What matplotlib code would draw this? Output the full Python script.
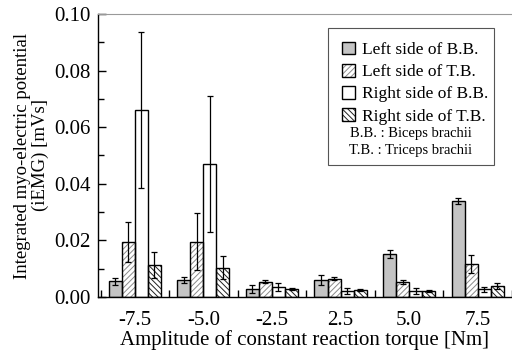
import matplotlib.pyplot as plt
import numpy as np
from matplotlib.patches import Rectangle
from matplotlib.ticker import MultipleLocator

plt.rcParams['font.family'] = ['Liberation Serif', 'DejaVu Serif']
plt.rcParams['hatch.linewidth'] = 0.7

torques = ['-7.5', '-5.0', '-2.5', '2.5', '5.0', '7.5']
labels = ['Left side of B.B.', 'Left side of T.B.', 'Right side of B.B.', 'Right side of T.B.']

left_bb = [0.0055, 0.0060, 0.0027, 0.0060, 0.0152, 0.0339]
left_bb_err = [0.0013, 0.0011, 0.0014, 0.0017, 0.0014, 0.0011]
left_tb = [0.0195, 0.0195, 0.0054, 0.0065, 0.0054, 0.0116]
left_tb_err = [0.0070, 0.0100, 0.0005, 0.0004, 0.0007, 0.0033]
right_bb = [0.0660, 0.0470, 0.0035, 0.0022, 0.0021, 0.0027]
right_bb_err = [0.0275, 0.0242, 0.0013, 0.0010, 0.0010, 0.0009]
right_tb = [0.0113, 0.0103, 0.0027, 0.0025, 0.0022, 0.0039]
right_tb_err = [0.0045, 0.0041, 0.0004, 0.0004, 0.0003, 0.0010]

series = [left_bb, left_tb, right_bb, right_tb]
errors = [left_bb_err, left_tb_err, right_bb_err, right_tb_err]
fills = ['#c4c4c4', 'white', 'white', 'white']
hatches = [None, '//////', None, '\\\\\\\\\\\\']
hatch_cols = ['#c4c4c4', '#8a8a8a', 'white', '#202020']

fig = plt.figure(figsize=(5.12, 3.51), dpi=100)
ax = fig.add_axes([0.191, 0.154, 0.809, 0.806])

x = np.arange(len(torques))
w = 0.19
handles = []
for i in range(4):
    pos = x + (i - 1.5) * w
    b1 = ax.bar(pos, series[i], w, color=fills[i], hatch=hatches[i],
                edgecolor=hatch_cols[i], linewidth=0, zorder=2)
    b2 = ax.bar(pos, series[i], w, fill=False, edgecolor='black',
                linewidth=1.0, zorder=3)
    ax.errorbar(pos, series[i], yerr=errors[i], fmt='none', ecolor='black',
                elinewidth=0.9, capsize=2.5, capthick=0.9, zorder=4)
    handles.append((b1, b2))

ax.set_xlim(-0.54, 5.5)
ax.set_ylim(0, 0.10)
ax.set_xticks(x)
ax.set_xticklabels(torques)
ax.xaxis.set_minor_locator(MultipleLocator(1, offset=0.5))
ax.yaxis.set_major_locator(MultipleLocator(0.02))
ax.yaxis.set_minor_locator(MultipleLocator(0.01))
ax.yaxis.set_major_formatter(plt.FormatStrFormatter('%.2f'))
ax.tick_params(axis='x', which='major', length=0, labelsize=15, pad=10)
ax.tick_params(axis='x', which='minor', direction='in', length=5, width=1)
ax.tick_params(axis='y', which='both', direction='in', labelsize=15, width=1)
ax.tick_params(axis='y', which='major', length=6, pad=5)
ax.tick_params(axis='y', which='minor', length=4)

ax.spines['right'].set_visible(False)
ax.spines['top'].set_color('#999999')
ax.spines['left'].set_linewidth(1.0)
ax.spines['bottom'].set_linewidth(1.0)

ax.set_xlabel('Amplitude of constant reaction torque [Nm]', fontsize=15, labelpad=0)
ax.set_ylabel('Integrated myo-electric potential\n(iEMG) [mVs]', fontsize=13.5,
              linespacing=1.05, labelpad=4)

ax.add_patch(Rectangle((0.556, 0.465), 0.40, 0.487, transform=ax.transAxes,
                       facecolor='white', edgecolor='#555555', linewidth=0.8, zorder=5))
ax.legend(handles, labels, loc='upper left', bbox_to_anchor=(0.56, 0.945),
          frameon=False, fontsize=12.5, handlelength=0.75, handleheight=0.75,
          handletextpad=0.4, labelspacing=0.33, borderpad=0.2)
ax.text(0.756, 0.578, 'B.B. : Biceps brachii', transform=ax.transAxes,
        ha='center', va='center', fontsize=10.5, zorder=6)
ax.text(0.756, 0.518, 'T.B. : Triceps brachii', transform=ax.transAxes,
        ha='center', va='center', fontsize=10.5, zorder=6)

fig.savefig('out.png', dpi=100)
